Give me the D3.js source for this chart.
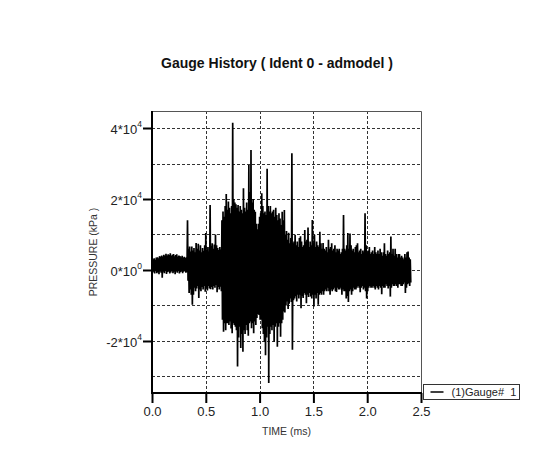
<!DOCTYPE html>
<html>
<head>
<meta charset="utf-8">
<script src="https://cdn.jsdelivr.net/npm/d3@7"></script>
<style>
  html, body { margin: 0; padding: 0; background: #fff; }
  svg { display: block; }
  text { font-family: "Liberation Sans", Arial, sans-serif; }
</style>
</head>
<body>
<svg id="chart" width="552" height="457"></svg>
<script>
// Gauge #1 pressure trace, sampled every 0.01 ms.
// Each sample holds the positive and negative peak reached in that step, in units of 10^3 kPa.
const sampleStepMs = 0.01;

const upperPeaks = [
  2.5, 3.0, 3.3, 2.9, 3.5, 3.6, 3.3, 3.9, 3.7, 4.1,
  3.8, 4.3, 4.0, 4.6, 4.1, 4.4, 4.2, 4.7, 4.0, 4.3,
  4.5, 3.9, 4.2, 4.4, 3.8, 4.1, 3.9, 3.6, 4.0, 3.5,
  3.7, 3.4, 3.6, 14.0, 6.0, 6.6, 5.2, 6.6, 5.5, 6.2,
  5.0, 7.6, 6.0, 7.4, 5.5, 7.0, 5.0, 6.2, 5.4, 7.0,
  10.4, 5.8, 6.5, 5.2, 18.3, 6.8, 7.5, 6.0, 7.2, 10.0,
  7.0, 6.2, 5.6, 6.5, 5.8, 14.0, 16.5, 15.0, 18.0, 21.4,
  17.0, 19.3, 17.5, 16.0, 18.0, 41.5, 20.0, 19.0, 18.5, 17.5,
  18.3, 16.5, 18.0, 17.0, 16.0, 23.0, 17.5, 16.5, 19.0, 17.0,
  29.6, 22.0, 33.8, 19.0, 20.0, 17.0, 16.4, 13.0, 11.5, 13.0,
  15.0, 16.0, 21.6, 18.0, 16.0, 16.5, 15.5, 28.5, 18.0, 16.5,
  18.0, 16.0, 16.5, 17.0, 15.0, 17.5, 15.5, 14.0, 16.0, 14.5,
  12.7, 16.4, 14.0, 16.9, 10.0, 11.0, 8.5, 10.5, 7.5, 9.0,
  32.9, 7.5, 8.0, 9.9, 7.0, 8.0, 6.5, 9.0, 9.5, 8.0,
  6.5, 7.0, 11.3, 8.0, 8.5, 12.0, 6.5, 8.0, 7.0, 14.1,
  7.5, 9.9, 6.5, 8.0, 7.0, 6.5, 10.8, 7.5, 6.0, 7.6,
  6.0, 5.5, 6.5, 5.0, 8.5, 6.0, 6.5, 7.5, 5.5, 6.0,
  7.0, 5.0, 6.0, 5.5, 6.0, 4.5, 5.0, 6.0, 15.5, 6.0,
  5.5, 7.0, 10.4, 6.0, 10.3, 7.0, 5.5, 6.0, 5.0, 6.5,
  7.0, 7.5, 5.0, 5.5, 6.0, 4.5, 5.5, 5.0, 16.0, 7.0,
  5.0, 5.5, 6.5, 4.5, 5.0, 5.5, 4.5, 6.5, 5.0, 4.5,
  5.5, 4.5, 6.0, 5.0, 4.0, 5.0, 7.5, 4.5, 4.0, 5.5,
  4.5, 5.0, 9.4, 4.5, 6.0, 4.0, 6.0, 4.5, 3.5, 4.5,
  4.5, 3.5, 4.0, 3.5, 3.0, 4.5, 3.5, 5.0, 5.2, 3.5,
  3.0
];

const lowerPeaks = [
  -0.8, -0.5, -1.0, -0.3, -0.9, -0.6, -1.2, -0.4, -0.8, -2.2,
  -0.5, -0.9, -0.3, -1.1, -0.6, -0.4, -1.0, -0.7, -0.3, -0.9,
  -0.5, -1.2, -0.4, -0.8, -0.3, -1.0, -0.6, -0.4, -0.9, -0.5,
  -0.3, -0.8, -0.6, -3.0, -6.5, -5.5, -7.0, -9.8, -7.0, -5.0,
  -6.0, -5.2, -4.5, -7.9, -5.5, -6.0, -4.8, -5.5, -4.5, -6.1,
  -5.0, -5.8, -4.5, -5.2, -5.4, -4.8, -5.5, -4.5, -5.0, -4.2,
  -6.3, -4.8, -5.5, -4.7, -6.0, -14.0, -17.4, -15.0, -17.0, -15.0,
  -15.0, -15.5, -14.5, -16.5, -17.8, -15.0, -15.5, -16.0, -17.0, -27.2,
  -19.0, -16.0, -22.0, -18.0, -23.0, -17.0, -18.0, -15.5, -17.0, -18.5,
  -15.0, -14.5, -16.4, -15.0, -17.8, -14.5, -15.5, -13.5, -12.5, -12.7,
  -14.0, -14.0, -16.4, -18.0, -20.2, -24.0, -19.0, -16.0, -31.8, -18.0,
  -16.0, -17.0, -15.5, -20.2, -16.0, -15.0, -21.6, -16.0, -15.0, -18.8,
  -15.0, -14.0, -11.7, -12.0, -10.0, -8.9, -11.0, -9.5, -8.0, -9.0,
  -22.5, -8.5, -8.0, -7.5, -8.9, -7.0, -8.0, -7.0, -10.8, -7.5,
  -7.9, -6.5, -7.0, -9.4, -7.0, -7.6, -6.5, -7.5, -8.0, -7.0,
  -10.3, -7.0, -8.0, -6.5, -9.8, -7.0, -6.5, -7.0, -6.0, -7.0,
  -6.0, -5.5, -6.0, -5.0, -6.0, -7.0, -5.5, -6.0, -5.5, -5.0,
  -6.0, -6.2, -5.0, -5.5, -5.5, -5.0, -7.0, -5.5, -6.0, -6.0,
  -8.0, -7.3, -9.0, -6.0, -5.5, -7.0, -6.0, -5.0, -5.5, -5.5,
  -5.0, -4.5, -5.0, -6.3, -5.0, -4.5, -5.5, -5.0, -6.0, -8.0,
  -6.0, -5.0, -4.5, -5.0, -5.0, -4.5, -5.0, -5.5, -4.5, -5.0,
  -5.5, -4.5, -5.0, -6.8, -4.5, -5.0, -5.0, -4.0, -4.5, -5.2,
  -4.5, -7.5, -5.0, -4.0, -4.5, -4.5, -4.0, -4.5, -5.0, -4.0,
  -4.0, -4.5, -4.5, -4.0, -3.5, -6.5, -5.0, -4.0, -3.7, -4.5,
  -3.5
];

// Axis settings
const timeDomain = [0, 2.5];
const pressureDomain = [-34650, 44790];
const timeTicks = [0, 0.5, 1.0, 1.5, 2.0, 2.5];
const pressureTicks = [-20000, 0, 20000, 40000];
const pressureGrid = [-30000, -20000, -10000, 0, 10000, 20000, 30000, 40000];
const timeGrid = [0.5, 1.0, 1.5, 2.0];

const chartTitle = "Gauge History ( Ident 0 - admodel )";
const xTitle = "TIME (ms)";
const yTitle = "PRESSURE (kPa )";
const legendLabel = "(1)Gauge#  1";

const svg = d3.select("#chart");
const plot = { left: 152, right: 421, top: 111, bottom: 393 };

const x = d3.scaleLinear().domain(timeDomain).range([plot.left, plot.right]);
const y = d3.scaleLinear().domain(pressureDomain).range([plot.bottom, plot.top]);

svg.append("rect").attr("width", 552).attr("height", 457).attr("fill", "#fff");

// Title
svg.append("text")
  .attr("x", 277).attr("y", 68)
  .attr("text-anchor", "middle")
  .attr("font-size", 14).attr("font-weight", "bold").attr("fill", "#111")
  .text(chartTitle);

// Dashed grid
const grid = svg.append("g").attr("stroke", "#333").attr("stroke-width", 1)
  .attr("stroke-dasharray", "3,2").attr("fill", "none");
grid.selectAll("line.h").data(pressureGrid).join("line").attr("class", "h")
  .attr("x1", plot.left).attr("x2", plot.right)
  .attr("y1", d => Math.round(y(d)) + 0.5).attr("y2", d => Math.round(y(d)) + 0.5);
grid.selectAll("line.v").data(timeGrid).join("line").attr("class", "v")
  .attr("y1", plot.top).attr("y2", plot.bottom)
  .attr("x1", d => Math.round(x(d)) + 0.5).attr("x2", d => Math.round(x(d)) + 0.5);

// Top and right frame
svg.append("path")
  .attr("d", `M${plot.left},${plot.top + 0.5}H${plot.right + 0.5}V${plot.bottom}`)
  .attr("fill", "none").attr("stroke", "#555").attr("stroke-width", 1);

// Pressure trace: alternate between positive and negative peaks of each step
const tracePoints = [];
upperPeaks.forEach((hi, i) => {
  const t = i * sampleStepMs;
  tracePoints.push([t, hi * 1e3]);
  tracePoints.push([t + sampleStepMs / 2, lowerPeaks[i] * 1e3]);
});
const line = d3.line().x(d => x(d[0])).y(d => y(d[1]));
svg.append("path")
  .datum(tracePoints)
  .attr("d", line)
  .attr("fill", "none").attr("stroke", "#000").attr("stroke-width", 1.7)
  .attr("stroke-linejoin", "miter");

// Axes
const xAxis = d3.axisBottom(x).tickValues(timeTicks).tickSize(10).tickPadding(4)
  .tickFormat(d3.format(".1f"));
const gx = svg.append("g").attr("transform", `translate(0,${plot.bottom})`).call(xAxis);
gx.select(".domain").attr("stroke", "#000").attr("stroke-width", 2)
  .attr("d", `M${plot.left - 1},0H${plot.right + 1}`);
gx.selectAll(".tick line").attr("stroke", "#000").attr("stroke-width", 2);
gx.selectAll(".tick text").attr("font-size", 13).attr("fill", "#222")
  .attr("font-family", "Liberation Sans, Arial, sans-serif");

const yAxis = d3.axisLeft(y).tickValues(pressureTicks).tickSize(9).tickPadding(3)
  .tickFormat(() => "");
const gy = svg.append("g").attr("transform", `translate(${plot.left},0)`).call(yAxis);
gy.select(".domain").attr("stroke", "#000").attr("stroke-width", 2)
  .attr("d", `M0,${plot.top}V${plot.bottom + 1}`);
gy.selectAll(".tick line").attr("stroke", "#000").attr("stroke-width", 2);
gy.selectAll(".tick text").each(function (d) {
  const t = d3.select(this)
    .attr("font-size", 13).attr("fill", "#222")
    .attr("font-family", "Liberation Sans, Arial, sans-serif")
    .attr("x", -10).attr("dy", "0.4em");
  const exp = d === 0 ? 0 : Math.floor(Math.log10(Math.abs(d)));
  const mant = d / Math.pow(10, exp);
  t.append("tspan").text(`${mant}*10`);
  t.append("tspan").attr("font-size", 8.5).attr("dy", "-0.8em").text(exp);
});

// Axis titles
svg.append("text")
  .attr("x", (plot.left + plot.right) / 2).attr("y", 435)
  .attr("text-anchor", "middle").attr("font-size", 10.5).attr("fill", "#333")
  .text(xTitle);
svg.append("text")
  .attr("transform", `translate(97,${(plot.top + plot.bottom) / 2}) rotate(-90)`)
  .attr("text-anchor", "middle").attr("font-size", 10.5).attr("fill", "#333")
  .text(yTitle);

// Legend
const legend = svg.append("g").attr("transform", "translate(423.5,384.5)");
legend.append("rect").attr("width", 96).attr("height", 15)
  .attr("fill", "#fff").attr("stroke", "#333").attr("stroke-width", 1);
legend.append("line").attr("x1", 7).attr("x2", 20).attr("y1", 7.5).attr("y2", 7.5)
  .attr("stroke", "#000").attr("stroke-width", 1.5);
legend.append("text").attr("x", 28).attr("y", 11.5)
  .attr("font-size", 11).attr("fill", "#222").attr("xml:space", "preserve")
  .style("white-space", "pre")
  .text(legendLabel);
</script>
</body>
</html>
